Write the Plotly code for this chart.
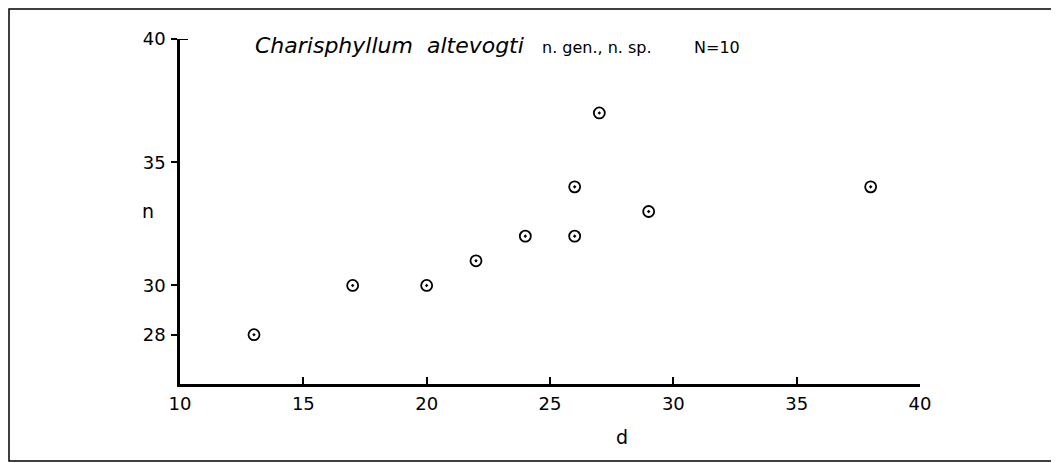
import plotly.graph_objects as go

# Data
d_values = [13, 17, 20, 22, 24, 26, 26, 27, 29, 38]
n_values = [28, 30, 30, 31, 32, 32, 34, 37, 33, 34]
x_ticks = [10, 15, 20, 25, 30, 35, 40]
y_ticks = [28, 30, 35, 40]

# page has an 8px body margin; figure is sized/offset to compensate
OFF = 8
W, H = 1059 - OFF, 463 - OFF
# desired page positions of plot area: x 180..920, y 39..384
L, T = 180 - OFF, 39 - OFF
R = W - (920 - OFF)
B = H - (384 - OFF)
pw, ph = W - L - R, H - T - B

def px_to_paper_x(px):
    return (px - OFF - L) / pw

def py_to_paper_y(py):
    return (H - B - (py - OFF)) / ph

FONT = "DejaVu Sans"

fig = go.Figure()
fig.add_trace(go.Scatter(
    x=d_values, y=n_values, mode="markers",
    marker=dict(symbol="circle-open-dot", size=11, color="black",
                line=dict(width=1.8, color="black")),
    showlegend=False, hoverinfo="x+y",
))

def label(text, x, y, size, anchor="left"):
    return dict(text=text, xref="paper", yref="paper",
                x=px_to_paper_x(x), y=py_to_paper_y(y),
                xanchor=anchor, yanchor="middle", showarrow=False,
                font=dict(size=size, family=FONT))

fig.update_layout(
    width=W, height=H,
    margin=dict(l=L, r=R, t=T, b=B, pad=0),
    paper_bgcolor="white", plot_bgcolor="white",
    font=dict(family=FONT, size=17, color="black"),
    xaxis=dict(range=[10, 40], tickvals=x_ticks, ticktext=[str(v) for v in x_ticks],
               showgrid=False, zeroline=False, showline=True, linecolor="black",
               linewidth=2.5, ticks="inside", ticklen=7, tickwidth=2, tickcolor="black",
               ticklabelstandoff=2, tickfont=dict(size=18, family=FONT)),
    yaxis=dict(range=[26, 40], tickvals=y_ticks, ticktext=[str(v) for v in y_ticks],
               showgrid=False, zeroline=False, showline=True, linecolor="black",
               linewidth=2.5, ticks="outside", ticklen=6, tickwidth=2, tickcolor="black",
               ticklabelstandoff=2, tickfont=dict(size=18, family=FONT)),
    shapes=[
        dict(type="rect", xref="paper", yref="paper",
             x0=px_to_paper_x(9), x1=px_to_paper_x(1056),
             y0=py_to_paper_y(461), y1=py_to_paper_y(9),
             line=dict(color="black", width=1.5), fillcolor="rgba(0,0,0,0)", layer="below"),
        dict(type="line", xref="x domain", yref="y",
             x0=0, x1=8 / pw, y0=40, y1=40,
             line=dict(color="black", width=2)),
    ],
    annotations=[
        label("<i>Charisphyllum  altevogti</i>", 253, 46, 22),
        label("n. gen., n. sp.", 540, 47, 16),
        label("N=10", 692, 47, 16),
        label("d", 622, 437, 19, "center"),
        label("n", 148, 211, 19, "center"),
    ],
)

fig.write_html("out.html")
